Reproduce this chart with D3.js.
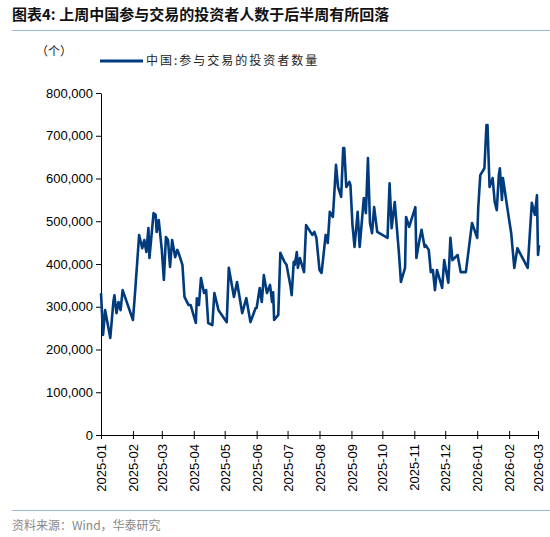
<!DOCTYPE html>
<html>
<head>
<meta charset="utf-8">
<script src="https://cdn.jsdelivr.net/npm/d3@7"></script>
<style>
  body { margin: 0; background: #fff; }
  svg text { font-family: "Liberation Sans", Arial, sans-serif; }
  .cjk { font-family: "Noto Sans CJK SC", sans-serif; }
</style>
</head>
<body>
<div id="chart"></div>
<script>
"use strict";

// Days since 2025-01-01, and investor counts.
const dayOffsets = [0, 2, 4, 7, 9, 12, 13, 15, 17, 19, 21, 31, 33, 37, 40, 42, 44, 46, 47, 51,
  53, 54, 56, 59, 61, 63, 65, 67, 69, 72, 74, 75, 79, 81, 85, 87, 92, 93, 95, 97,
  100, 102, 104, 108, 110, 114, 122, 124, 129, 132, 137, 141, 145, 150, 151, 154, 156, 158, 161, 164,
  166, 167, 168, 172, 174, 178, 180, 184, 185, 187, 188, 190, 191, 193, 197, 199, 205, 207, 209, 212,
  214, 218, 220, 222, 225, 228, 230, 233, 235, 236, 238, 241, 242, 244, 246, 249, 251, 255, 257, 259,
  261, 263, 265, 268, 278, 280, 282, 285, 289, 291, 295, 296, 299, 305, 306, 309, 311, 314, 315, 318,
  320, 322, 324, 326, 331, 333, 337, 339, 341, 346, 349, 354, 360, 365, 366, 368, 372, 374, 375, 377,
  380, 382, 384, 386, 387, 389, 390, 395, 398, 401, 404, 414, 416, 418, 421, 423, 424, 425];
const investors = [332000, 234000, 292000, 253000, 227000, 311000, 327000, 285000, 311000, 292000,
  339000, 269000, 332000, 468000, 437000, 456000, 428000, 484000, 414000, 519000,
  515000, 475000, 503000, 433000, 363000, 463000, 456000, 393000, 456000, 416000,
  433000, 428000, 398000, 323000, 304000, 304000, 262000, 320000, 304000, 367000,
  332000, 339000, 262000, 257000, 332000, 292000, 264000, 391000, 323000, 358000,
  285000, 320000, 264000, 297000, 297000, 344000, 311000, 374000, 332000, 351000,
  311000, 334000, 269000, 281000, 426000, 405000, 398000, 346000, 327000, 405000,
  398000, 428000, 391000, 414000, 381000, 491000, 468000, 475000, 461000, 386000,
  379000, 468000, 449000, 522000, 510000, 632000, 580000, 557000, 671000, 671000,
  580000, 592000, 585000, 491000, 440000, 522000, 440000, 554000, 519000, 648000,
  496000, 472000, 533000, 475000, 461000, 589000, 484000, 545000, 428000, 358000,
  391000, 510000, 487000, 533000, 414000, 456000, 480000, 440000, 444000, 433000,
  381000, 386000, 339000, 386000, 344000, 409000, 356000, 461000, 409000, 421000,
  381000, 381000, 496000, 461000, 531000, 608000, 624000, 725000, 725000, 580000,
  601000, 545000, 526000, 608000, 624000, 550000, 601000, 519000, 472000, 391000,
  437000, 391000, 468000, 543000, 515000, 561000, 421000, 444000, 409000];
const monthTicks = ["2025-01", "2025-02", "2025-03", "2025-04", "2025-05", "2025-06", "2025-07",
  "2025-08", "2025-09", "2025-10", "2025-11", "2025-12", "2026-01", "2026-02", "2026-03"];
const yTicks = [0, 100000, 200000, 300000, 400000, 500000, 600000, 700000, 800000];

const W = 550, H = 537;
const plotLeft = 101, plotRight = 538, plotTop = 93, plotBottom = 435;
const lineColor = "#003b7d";
const sepColor = "#9db6d3";

const parseMonth = d3.timeParse("%Y-%m");
const start = parseMonth("2025-01");
const points = dayOffsets.map((d, i) => ({ date: d3.timeDay.offset(start, d), value: investors[i] }));

const svg = d3.select("#chart").append("svg").attr("width", W).attr("height", H);

const x = d3.scaleTime().domain([start, parseMonth("2026-03")]).range([plotLeft, plotRight]);
const y = d3.scaleLinear().domain([0, 800000]).range([plotBottom, plotTop]);

// Title and separators
svg.append("text").attr("class", "cjk").attr("x", 12).attr("y", 20)
  .style("font-size", "15px").style("font-weight", "bold").attr("fill", "#111")
  .text("图表4:  上周中国参与交易的投资者人数于后半周有所回落");
svg.append("line").attr("x1", 12).attr("x2", W).attr("y1", 30.5).attr("y2", 30.5)
  .attr("stroke", sepColor).attr("stroke-width", 1.2);
svg.append("line").attr("x1", 12).attr("x2", W).attr("y1", 510.5).attr("y2", 510.5)
  .attr("stroke", sepColor).attr("stroke-width", 1.2);
svg.append("text").attr("class", "cjk").attr("x", 12).attr("y", 530)
  .style("font-size", "12px").attr("fill", "#888").text("资料来源：Wind，华泰研究");

// Unit and legend
svg.append("text").attr("class", "cjk").attr("x", 36).attr("y", 56)
  .style("font-size", "12px").attr("fill", "#222").text("（个）");
svg.append("line").attr("x1", 100).attr("x2", 143).attr("y1", 61).attr("y2", 61)
  .attr("stroke", lineColor).attr("stroke-width", 3);
svg.append("text").attr("class", "cjk").attr("x", 146).attr("y", 65)
  .style("font-size", "12px").attr("fill", "#222").style("letter-spacing", "2px")
  .text("中国:参与交易的投资者数量");

// Y axis
const yAxis = svg.append("g").attr("transform", `translate(${plotLeft},0)`)
  .call(d3.axisLeft(y).tickValues(yTicks).tickSize(5).tickSizeOuter(0)
    .tickFormat(d3.format(",")));
yAxis.selectAll("text").style("font-size", "13px").attr("fill", "#000");
yAxis.selectAll("line, path").attr("stroke", "#000");

// X axis (ticks cross the axis line)
const xAxis = svg.append("g").attr("transform", `translate(0,${plotBottom})`)
  .call(d3.axisBottom(x).tickValues(monthTicks.map(parseMonth)).tickSize(4).tickSizeOuter(0)
    .tickFormat(d3.timeFormat("%Y-%m")));
xAxis.selectAll(".tick line").attr("y1", -4);
xAxis.selectAll("line, path").attr("stroke", "#000");
xAxis.selectAll("text")
  .style("font-size", "13px").attr("fill", "#000")
  .attr("transform", "rotate(-90)")
  .attr("x", -9).attr("y", 0).attr("dy", "0.35em")
  .style("text-anchor", "end");

// Series
const line = d3.line().x(d => x(d.date)).y(d => y(d.value));
svg.append("path").datum(points)
  .attr("fill", "none").attr("stroke", lineColor).attr("stroke-width", 2.6)
  .attr("stroke-linejoin", "round").attr("d", line);
</script>
</body>
</html>
